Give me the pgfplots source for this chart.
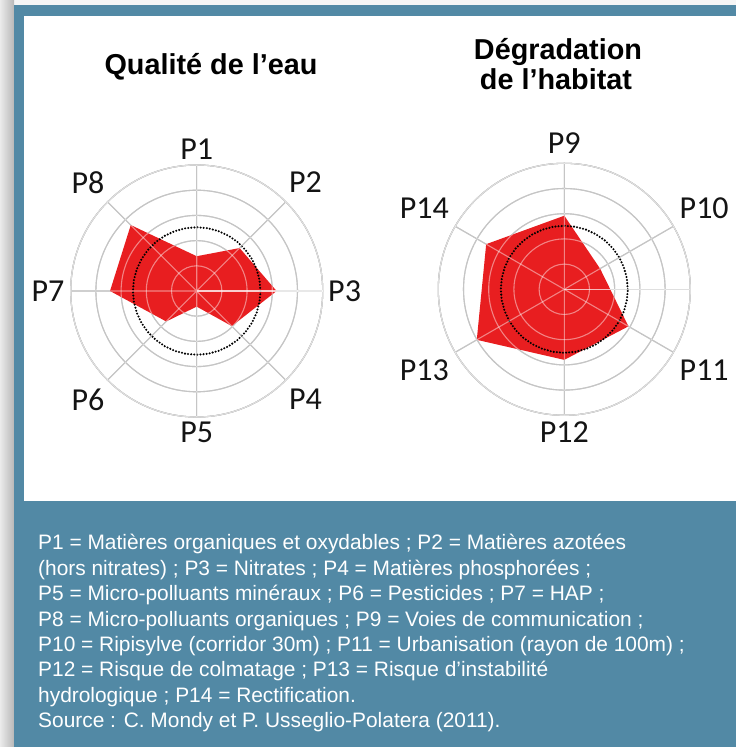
\documentclass[border=0pt]{standalone}
\usepackage{fontspec}
\setmainfont{Liberation Sans}
\newfontfamily\labfont{Carlito}
\usepackage{pgfplots}
\pgfplotsset{compat=1.18}
\usepgfplotslibrary{polar}
\definecolor{frameblue}{RGB}{82,137,165}
\definecolor{radred}{RGB}{232,30,32}
\definecolor{gridunder}{RGB}{151,151,151}

\tikzset{lab/.style={font=\labfont\fontsize{32}{32}\selectfont, text=black!92}}
\pgfplotsset{
  radar/.style={
    width=252pt, height=252pt, scale only axis, anchor=center,
    ymin=0, ymax=5, ytick={1,2,3,4,5},
    xmajorticks=false, ymajorticks=false,
    xmajorgrids=true, ymajorgrids=true, clip=false,
  },
  under/.style={
    major grid style={draw=gridunder, line width=1.1pt},
    axis line style={draw=gridunder, line width=1.1pt},
  },
  over/.style={
    major grid style={draw=white, opacity=0.45, line width=1.1pt},
    axis line style={draw=white, opacity=0.45, line width=1.1pt},
  },
}

\begin{document}
\begin{tikzpicture}[x=1pt,y=1pt]
\useasboundingbox (0,0) rectangle (736,747);
\fill[black!4] (0,0) rectangle (736,747);
\shade[left color=black!8, right color=black!28] (0,0) rectangle (14,747);
\fill[frameblue] (14,0) rectangle (736,742);
\fill[white] (24,246) rectangle (736,731);

% titles
\node[anchor=base, inner sep=0pt, font=\bfseries\fontsize{28.8}{30}\selectfont] at (211,672) {Qualité de l’eau};
\node[anchor=base, inner sep=0pt, font=\bfseries\fontsize{28.8}{30}\selectfont] at (558,687) {Dégradation};
\node[anchor=base, inner sep=0pt, font=\bfseries\fontsize{28.8}{30}\selectfont] at (556,657) {de l’habitat};

% ---------- left radar: water quality ----------
\begin{polaraxis}[radar, under, at={(196.7pt,456pt)},
  xtick={0,45,...,315}]
\addplot[fill=radred, draw=none] coordinates {
  (90,1.38) (45,2.41) (0,3.17) (315,1.97) (270,0.62) (225,1.71) (180,3.44) (135,3.70) (90,1.38)
} -- cycle;
\addplot[black, line width=2.3pt, line cap=round, dash pattern=on 0pt off 3.1pt] coordinates {
  (0,2.53) (10,2.53) (20,2.53) (30,2.53) (40,2.53) (50,2.53) (60,2.53) (70,2.53) (80,2.53)
  (90,2.53) (100,2.53) (110,2.53) (120,2.53) (130,2.53) (140,2.53) (150,2.53) (160,2.53) (170,2.53)
  (180,2.53) (190,2.53) (200,2.53) (210,2.53) (220,2.53) (230,2.53) (240,2.53) (250,2.53) (260,2.53)
  (270,2.53) (280,2.53) (290,2.53) (300,2.53) (310,2.53) (320,2.53) (330,2.53) (340,2.53) (350,2.53) (360,2.53)
};
\node[lab] at (axis cs:90,5.63) {P1};
\node[lab] at (axis cs:45,6.1) {P2};
\node[lab] at (axis cs:0,5.87) {P3};
\node[lab] at (axis cs:315,6.1) {P4};
\node[lab] at (axis cs:270,5.6) {P5};
\node[lab] at (axis cs:225,6.1) {P6};
\node[lab] at (axis cs:180,5.9) {P7};
\node[lab] at (axis cs:135,6.1) {P8};
\end{polaraxis}
\begin{polaraxis}[radar, over, at={(196.7pt,456pt)},
  xtick={0,45,...,315}]
\end{polaraxis}

% ---------- right radar: habitat ----------
\begin{polaraxis}[radar, under, at={(564.3pt,457.7pt)},
  xtick={30,90,150,210,270,330}]
\addplot[fill=radred, draw=none] coordinates {
  (90,2.92) (30,1.64) (330,2.94) (270,2.80) (210,4.01) (150,3.58) (90,2.92)
} -- cycle;
\addplot[black, line width=2.3pt, line cap=round, dash pattern=on 0pt off 3.1pt] coordinates {
  (0,2.52) (10,2.52) (20,2.52) (30,2.52) (40,2.52) (50,2.52) (60,2.52) (70,2.52) (80,2.52)
  (90,2.52) (100,2.52) (110,2.52) (120,2.52) (130,2.52) (140,2.52) (150,2.52) (160,2.52) (170,2.52)
  (180,2.52) (190,2.52) (200,2.52) (210,2.52) (220,2.52) (230,2.52) (240,2.52) (250,2.52) (260,2.52)
  (270,2.52) (280,2.52) (290,2.52) (300,2.52) (310,2.52) (320,2.52) (330,2.52) (340,2.52) (350,2.52) (360,2.52)
};
\node[lab] at (axis cs:90,5.8) {P9};
\node[lab] at (axis cs:30,6.41) {P10};
\node[lab] at (axis cs:330,6.41) {P11};
\node[lab] at (axis cs:270,5.65) {P12};
\node[lab] at (axis cs:210,6.41) {P13};
\node[lab] at (axis cs:150,6.41) {P14};
\end{polaraxis}
\begin{polaraxis}[radar, over, at={(564.3pt,457.7pt)},
  xtick={30,90,150,210,270,330}]
\end{polaraxis}

% caption
\begin{scope}[every node/.style={anchor=base west, inner sep=0pt, text=white, font=\fontsize{20.9}{25}\selectfont}]
\node at (38,197.0) {P1 = Matières organiques et oxydables ; P2 = Matières azotées};
\node at (38,171.6) {(hors nitrates) ; P3 = Nitrates ; P4 = Matières phosphorées ;};
\node at (38,146.2) {P5 = Micro-polluants minéraux ; P6 = Pesticides ; P7 = HAP ;};
\node at (38,120.8) {P8 = Micro-polluants organiques ; P9 = Voies de communication ;};
\node at (38,95.4) {P10 = Ripisylve (corridor 30m) ; P11 = Urbanisation (rayon de 100m) ;};
\node at (38,70.0) {P12 = Risque de colmatage ; P13 = Risque d’instabilité};
\node at (38,44.6) {hydrologique ; P14 = Rectification.};
\node at (38,19.2) {Source : C. Mondy et P. Usseglio-Polatera (2011).};
\end{scope}
\end{tikzpicture}
\end{document}
